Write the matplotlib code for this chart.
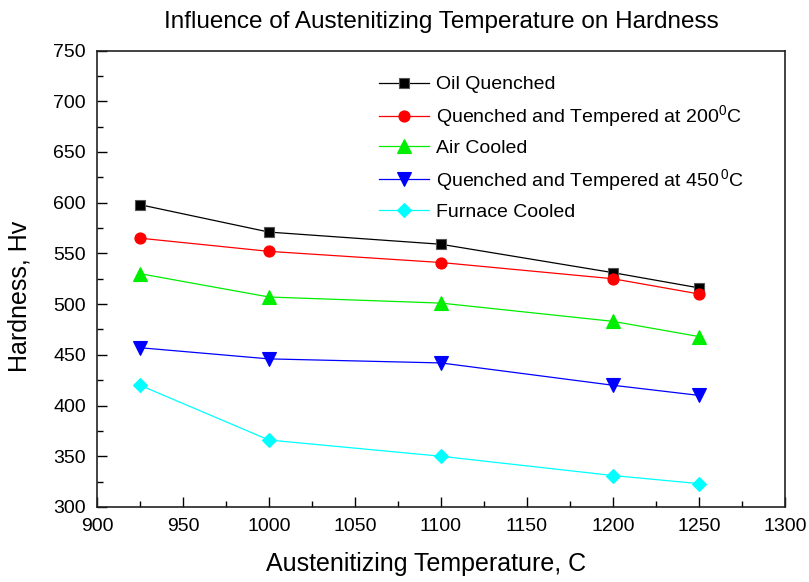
"""Hardness versus austenitizing temperature for several heat treatments."""
import matplotlib
matplotlib.use('Agg')
import matplotlib.pyplot as plt
from matplotlib.ticker import MultipleLocator

plt.rcParams['font.family'] = ['Liberation Sans', 'DejaVu Sans']
plt.rcParams['mathtext.fontset'] = 'custom'
plt.rcParams['mathtext.rm'] = 'Liberation Sans'
plt.rcParams['mathtext.it'] = 'Liberation Sans'

# Austenitizing temperatures (C)
temperatures = [925, 1000, 1100, 1200, 1250]

# Hardness (Hv) for each treatment
oil_quenched = [598, 571, 559, 531, 516]
tempered_200 = [565, 552, 541, 525, 510]
air_cooled = [530, 507, 501, 483, 468]
tempered_450 = [457, 446, 442, 420, 410]
furnace_cooled = [420, 366, 350, 331, 323]

# (values, label, colour, marker, marker size)
series = [
    (oil_quenched, 'Oil Quenched', 'black', 's', 7.2),
    (tempered_200, 'Quenched and Tempered at 200$^{0}$C', 'red', 'o', 8),
    (air_cooled, 'Air Cooled', '#00ee00', '^', 10),
    (tempered_450, 'Quenched and Tempered at 450$\\,^{0}$C', 'blue', 'v', 10),
    (furnace_cooled, 'Furnace Cooled', 'cyan', 'D', 7),
]

fig = plt.figure(figsize=(8.09, 5.82), dpi=100)
ax = fig.add_axes([0.1199, 0.1289, 0.8504, 0.7843])

for values, label, color, marker, size in series:
    edge = '#555555' if marker == 's' else color
    ax.plot(temperatures, values, color=color, linewidth=0.9, marker=marker,
            markersize=size, markerfacecolor=color, markeredgecolor=edge,
            markeredgewidth=0.8, label=label)

ax.set_xlim(900, 1300)
ax.set_ylim(300, 750)
ax.xaxis.set_major_locator(MultipleLocator(50))
ax.xaxis.set_minor_locator(MultipleLocator(25))
ax.yaxis.set_major_locator(MultipleLocator(50))
ax.yaxis.set_minor_locator(MultipleLocator(25))
ax.tick_params(which='both', direction='in', top=False, right=False,
               labelsize=14, width=1.0, pad=8)
ax.tick_params(which='major', length=7)
ax.tick_params(which='minor', length=4)
for spine in ax.spines.values():
    spine.set_linewidth(1.2)
    spine.set_color('#222222')

ax.set_xlabel('Austenitizing Temperature, C', fontsize=18, va='top')
ax.xaxis.set_label_coords(0.478, -0.098)
ax.set_ylabel('Hardness, Hv', fontsize=18)
ax.yaxis.set_label_coords(-0.095, 0.462)
ax.set_title('Influence of Austenitizing Temperature on Hardness',
             fontsize=17.5, pad=16)

ax.legend(loc='upper left', bbox_to_anchor=(0.384, 0.983), frameon=False,
          fontsize=14, handlelength=2.6, handletextpad=0.36,
          labelspacing=0.52)

fig.savefig('out.png', dpi=100)
